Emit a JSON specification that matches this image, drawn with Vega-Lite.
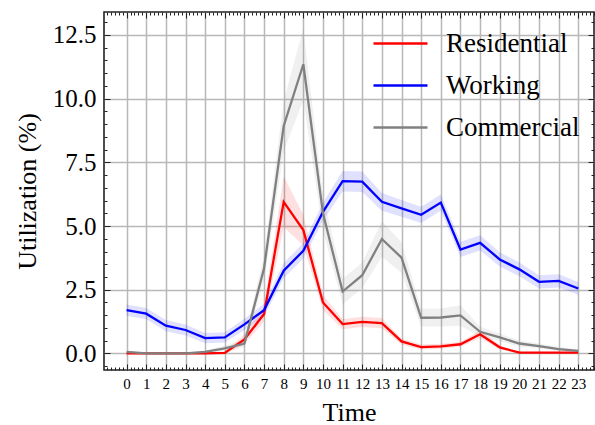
{
  "$schema": "https://vega.github.io/schema/vega-lite/v6.json",
  "width": 490,
  "height": 358,
  "autosize": {"type": "none"},
  "padding": {"left": 104, "top": 12, "right": 1, "bottom": 55},
  "background": "white",
  "config": {
    "font": "Liberation Serif",
    "view": {"stroke": "#222222", "strokeWidth": 1.6},
    "axis": {"domain": false, "labelFont": "Liberation Serif", "titleFont": "Liberation Serif", "labelColor": "black", "titleColor": "black", "tickColor": "#222222", "titleFontWeight": "normal", "gridColor": "#b8b8b8", "gridWidth": 1.5, "gridOpacity": 1},
    "legend": {"labelFont": "Liberation Serif", "labelFontSize": 27, "labelColor": "black", "labelLimit": 300}
  },
  "data": {
    "values": [
      {"hour": 0, "series": "Residential", "value": 0.0, "lo": -0.02, "hi": 0.02},
      {"hour": 1, "series": "Residential", "value": 0.0, "lo": -0.02, "hi": 0.02},
      {"hour": 2, "series": "Residential", "value": 0.0, "lo": -0.02, "hi": 0.02},
      {"hour": 3, "series": "Residential", "value": 0.0, "lo": -0.02, "hi": 0.02},
      {"hour": 4, "series": "Residential", "value": 0.0, "lo": -0.02, "hi": 0.02},
      {"hour": 5, "series": "Residential", "value": 0.02, "lo": -0.03, "hi": 0.07},
      {"hour": 6, "series": "Residential", "value": 0.55, "lo": 0.35, "hi": 0.75},
      {"hour": 7, "series": "Residential", "value": 1.55, "lo": 1.25, "hi": 1.85},
      {"hour": 8, "series": "Residential", "value": 5.95, "lo": 4.95, "hi": 6.95},
      {"hour": 9, "series": "Residential", "value": 4.84, "lo": 4.24, "hi": 5.44},
      {"hour": 10, "series": "Residential", "value": 2.0, "lo": 1.7, "hi": 2.3},
      {"hour": 11, "series": "Residential", "value": 1.15, "lo": 0.95, "hi": 1.35},
      {"hour": 12, "series": "Residential", "value": 1.24, "lo": 1.04, "hi": 1.44},
      {"hour": 13, "series": "Residential", "value": 1.19, "lo": 0.99, "hi": 1.39},
      {"hour": 14, "series": "Residential", "value": 0.47, "lo": 0.35, "hi": 0.59},
      {"hour": 15, "series": "Residential", "value": 0.25, "lo": 0.15, "hi": 0.35},
      {"hour": 16, "series": "Residential", "value": 0.28, "lo": 0.18, "hi": 0.38},
      {"hour": 17, "series": "Residential", "value": 0.36, "lo": 0.26, "hi": 0.46},
      {"hour": 18, "series": "Residential", "value": 0.75, "lo": 0.6, "hi": 0.9},
      {"hour": 19, "series": "Residential", "value": 0.24, "lo": 0.16, "hi": 0.32},
      {"hour": 20, "series": "Residential", "value": 0.03, "lo": 0.0, "hi": 0.06},
      {"hour": 21, "series": "Residential", "value": 0.03, "lo": 0.0, "hi": 0.06},
      {"hour": 22, "series": "Residential", "value": 0.03, "lo": 0.0, "hi": 0.06},
      {"hour": 23, "series": "Residential", "value": 0.03, "lo": 0.0, "hi": 0.06},
      {"hour": 0, "series": "Working", "value": 1.7, "lo": 1.48, "hi": 1.92},
      {"hour": 1, "series": "Working", "value": 1.56, "lo": 1.34, "hi": 1.78},
      {"hour": 2, "series": "Working", "value": 1.09, "lo": 0.87, "hi": 1.31},
      {"hour": 3, "series": "Working", "value": 0.92, "lo": 0.7, "hi": 1.14},
      {"hour": 4, "series": "Working", "value": 0.6, "lo": 0.4, "hi": 0.8},
      {"hour": 5, "series": "Working", "value": 0.63, "lo": 0.43, "hi": 0.83},
      {"hour": 6, "series": "Working", "value": 1.14, "lo": 0.92, "hi": 1.36},
      {"hour": 7, "series": "Working", "value": 1.7, "lo": 1.45, "hi": 1.95},
      {"hour": 8, "series": "Working", "value": 3.25, "lo": 2.95, "hi": 3.55},
      {"hour": 9, "series": "Working", "value": 4.03, "lo": 3.73, "hi": 4.33},
      {"hour": 10, "series": "Working", "value": 5.56, "lo": 5.21, "hi": 5.91},
      {"hour": 11, "series": "Working", "value": 6.76, "lo": 6.36, "hi": 7.16},
      {"hour": 12, "series": "Working", "value": 6.74, "lo": 6.34, "hi": 7.14},
      {"hour": 13, "series": "Working", "value": 5.95, "lo": 5.6, "hi": 6.3},
      {"hour": 14, "series": "Working", "value": 5.69, "lo": 5.36, "hi": 6.02},
      {"hour": 15, "series": "Working", "value": 5.44, "lo": 5.12, "hi": 5.76},
      {"hour": 16, "series": "Working", "value": 5.92, "lo": 5.6, "hi": 6.24},
      {"hour": 17, "series": "Working", "value": 4.08, "lo": 3.78, "hi": 4.38},
      {"hour": 18, "series": "Working", "value": 4.34, "lo": 4.04, "hi": 4.64},
      {"hour": 19, "series": "Working", "value": 3.69, "lo": 3.41, "hi": 3.97},
      {"hour": 20, "series": "Working", "value": 3.3, "lo": 3.03, "hi": 3.57},
      {"hour": 21, "series": "Working", "value": 2.81, "lo": 2.55, "hi": 3.07},
      {"hour": 22, "series": "Working", "value": 2.85, "lo": 2.59, "hi": 3.11},
      {"hour": 23, "series": "Working", "value": 2.55, "lo": 2.3, "hi": 2.8},
      {"hour": 0, "series": "Commercial", "value": 0.06, "lo": 0.01, "hi": 0.11},
      {"hour": 1, "series": "Commercial", "value": 0.0, "lo": -0.03, "hi": 0.03},
      {"hour": 2, "series": "Commercial", "value": 0.0, "lo": -0.03, "hi": 0.03},
      {"hour": 3, "series": "Commercial", "value": 0.0, "lo": -0.03, "hi": 0.03},
      {"hour": 4, "series": "Commercial", "value": 0.06, "lo": 0.0, "hi": 0.12},
      {"hour": 5, "series": "Commercial", "value": 0.2, "lo": 0.1, "hi": 0.3},
      {"hour": 6, "series": "Commercial", "value": 0.39, "lo": 0.24, "hi": 0.54},
      {"hour": 7, "series": "Commercial", "value": 3.34, "lo": 2.84, "hi": 3.84},
      {"hour": 8, "series": "Commercial", "value": 8.93, "lo": 7.93, "hi": 9.93},
      {"hour": 9, "series": "Commercial", "value": 11.35, "lo": 9.95, "hi": 12.75},
      {"hour": 10, "series": "Commercial", "value": 5.5, "lo": 4.8, "hi": 6.2},
      {"hour": 11, "series": "Commercial", "value": 2.43, "lo": 1.93, "hi": 2.93},
      {"hour": 12, "series": "Commercial", "value": 3.07, "lo": 2.57, "hi": 3.57},
      {"hour": 13, "series": "Commercial", "value": 4.49, "lo": 3.79, "hi": 5.19},
      {"hour": 14, "series": "Commercial", "value": 3.76, "lo": 3.16, "hi": 4.36},
      {"hour": 15, "series": "Commercial", "value": 1.4, "lo": 1.05, "hi": 1.75},
      {"hour": 16, "series": "Commercial", "value": 1.41, "lo": 1.06, "hi": 1.76},
      {"hour": 17, "series": "Commercial", "value": 1.49, "lo": 1.09, "hi": 1.89},
      {"hour": 18, "series": "Commercial", "value": 0.85, "lo": 0.65, "hi": 1.05},
      {"hour": 19, "series": "Commercial", "value": 0.63, "lo": 0.48, "hi": 0.78},
      {"hour": 20, "series": "Commercial", "value": 0.39, "lo": 0.27, "hi": 0.51},
      {"hour": 21, "series": "Commercial", "value": 0.29, "lo": 0.19, "hi": 0.39},
      {"hour": 22, "series": "Commercial", "value": 0.17, "lo": 0.09, "hi": 0.25},
      {"hour": 23, "series": "Commercial", "value": 0.1, "lo": 0.05, "hi": 0.15}
    ]
  },
  "resolve": {"axis": {"x": "independent", "y": "independent"}},
  "layer": [
    {
      "mark": {"type": "area", "opacity": 0.12},
      "encoding": {
        "x": {"field": "hour", "type": "quantitative", "scale": {"domain": [-1.15, 23.8], "nice": false, "zero": false},
          "axis": {"orient": "bottom", "values": [0,1,2,3,4,5,6,7,8,9,10,11,12,13,14,15,16,17,18,19,20,21,22,23], "grid": true, "tickSize": -6, "labelPadding": 12, "labelFontSize": 15, "title": "Time", "titleFontSize": 26, "titlePadding": 8, "labelFlush": false}},
        "y": {"field": "lo", "type": "quantitative", "scale": {"domain": [-0.65, 13.4], "nice": false, "zero": false},
          "axis": {"orient": "left", "values": [0, 2.5, 5, 7.5, 10, 12.5], "format": ".1f", "grid": true, "tickSize": -6, "labelPadding": 14, "labelFontSize": 25, "title": "Utilization (%)", "titleFontSize": 26, "titlePadding": 12, "labelFlush": false}},
        "y2": {"field": "hi"},
        "fill": {"field": "series", "type": "nominal", "scale": {"domain": ["Commercial", "Residential", "Working"], "range": ["#808080", "#ff0000", "#0000ff"]}, "legend": null}
      }
    },
    {
      "mark": {"type": "line", "strokeWidth": 2.3},
      "encoding": {
        "x": {"field": "hour", "type": "quantitative", "axis": {"orient": "bottom", "tickCount": 125, "labels": false, "grid": false, "tickSize": -3, "title": null}},
        "y": {"field": "value", "type": "quantitative", "axis": {"orient": "left", "tickCount": 28, "labels": false, "grid": false, "tickSize": -3, "title": null}},
        "color": {"field": "series", "type": "nominal", "scale": {"domain": ["Residential", "Working", "Commercial"], "range": ["#ff0000", "#0000ff", "#808080"]},
          "legend": {"orient": "none", "legendX": 268, "legendY": 3, "padding": 0, "title": null, "symbolType": "stroke", "symbolSize": 2916, "symbolStrokeWidth": 2.3, "labelOffset": 17, "rowPadding": -13}}
      }
    },
    {
      "mark": {"type": "line", "opacity": 0},
      "encoding": {
        "x": {"field": "hour", "type": "quantitative", "axis": {"orient": "top", "values": [0,1,2,3,4,5,6,7,8,9,10,11,12,13,14,15,16,17,18,19,20,21,22,23], "labels": false, "grid": false, "tickSize": -6, "title": null}},
        "y": {"field": "value", "type": "quantitative", "axis": {"orient": "right", "values": [0, 2.5, 5, 7.5, 10, 12.5], "labels": false, "grid": false, "tickSize": -6, "title": null}},
        "detail": {"field": "series"}
      }
    },
    {
      "mark": {"type": "line", "opacity": 0},
      "encoding": {
        "x": {"field": "hour", "type": "quantitative", "axis": {"orient": "top", "tickCount": 125, "labels": false, "grid": false, "tickSize": -3, "title": null}},
        "y": {"field": "value", "type": "quantitative", "axis": {"orient": "right", "tickCount": 28, "labels": false, "grid": false, "tickSize": -3, "title": null}},
        "detail": {"field": "series"}
      }
    }
  ]
}
